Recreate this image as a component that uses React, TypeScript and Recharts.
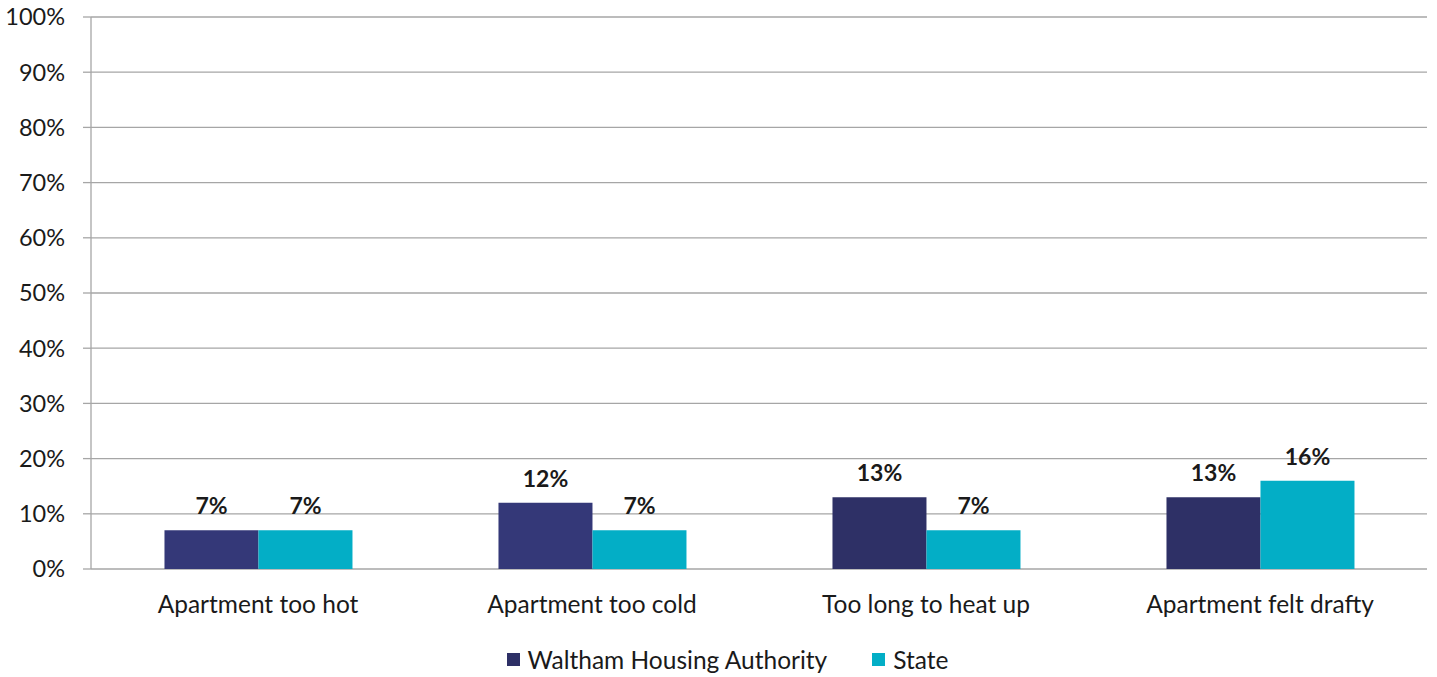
import React from "react";
import {
  BarChart,
  Bar,
  XAxis,
  YAxis,
  CartesianGrid,
  Legend,
  LabelList,
  Cell,
} from "recharts";

const categories = [
  "Apartment too hot",
  "Apartment too cold",
  "Too long to heat up",
  "Apartment felt drafty",
];
const walthamValues = [7, 12, 13, 13];
const stateValues = [7, 7, 7, 16];
const yTicks = [0, 10, 20, 30, 40, 50, 60, 70, 80, 90, 100];
const boundaryTicks = [0, 1, 2, 3, 4];

const walthamColors = ["#343878", "#343878", "#2E3066", "#2E3066"];
const stateColor = "#03AEC6";
const gridColor = "#A6A6A6";
const textColor = "#1a1a1a";
const fontFamily = "Lato, 'Open Sans', sans-serif";

const data = categories.map((name, i) => ({
  name,
  waltham: walthamValues[i],
  state: stateValues[i],
}));

function ChartLegend() {
  const items = [
    { label: "Waltham Housing Authority", color: walthamColors[2] },
    { label: "State", color: stateColor },
  ];
  return (
    <div
      style={{
        display: "flex",
        justifyContent: "center",
        alignItems: "center",
        gap: 45,
        paddingTop: 8,
        paddingLeft: 28,
        fontFamily,
        fontSize: 24.5,
        color: textColor,
      }}
    >
      {items.map((it) => (
        <div key={it.label} style={{ display: "flex", alignItems: "center" }}>
          <span
            style={{
              display: "inline-block",
              width: 13,
              height: 13,
              background: it.color,
              marginRight: 8,
            }}
          />
          <span>{it.label}</span>
        </div>
      ))}
    </div>
  );
}

export default function App() {
  const labelStyle = {
    fill: textColor,
    fontSize: 23,
    fontWeight: 700,
    fontFamily,
  };
  return (
    <div style={{ position: "absolute", left: 0, top: 0, background: "#fff" }}>
      <BarChart
        width={1437}
        height={677}
        data={data}
        margin={{ top: 17, right: 10, bottom: 0, left: 0 }}
        barCategoryGap="22%"
        barGap={0}
      >
        <CartesianGrid vertical={false} stroke={gridColor} strokeWidth={1.3} />
        <XAxis
          xAxisId="cat"
          dataKey="name"
          height={68}
          tickLine={false}
          axisLine={false}
          tickSize={0}
          tickMargin={27}
          tick={{ fill: textColor, fontSize: 24.5, fontFamily }}
          interval={0}
        />
        <XAxis
          xAxisId="num"
          type="number"
          domain={[0, 4]}
          ticks={boundaryTicks}
          allowDataOverflow
          height={0}
          tick={false}
          tickSize={8}
          stroke={gridColor}
          strokeWidth={1.3}
        />
        <YAxis
          width={91}
          domain={[0, 100]}
          ticks={yTicks}
          tickFormatter={(v) => `${v}%`}
          tickSize={8}
          tickMargin={18}
          stroke={gridColor}
          strokeWidth={1.3}
          tick={{ fill: textColor, fontSize: 23.5, fontFamily }}
        />
        <Legend verticalAlign="bottom" height={40} content={() => <ChartLegend />} />
        <Bar xAxisId="cat" dataKey="waltham" isAnimationActive={false}>
          {data.map((d, i) => (
            <Cell key={d.name} fill={walthamColors[i]} />
          ))}
          <LabelList
            dataKey="waltham"
            position="top"
            offset={16}
            formatter={(v: number) => `${v}%`}
            style={labelStyle}
          />
        </Bar>
        <Bar xAxisId="cat" dataKey="state" fill={stateColor} isAnimationActive={false}>
          <LabelList
            dataKey="state"
            position="top"
            offset={16}
            formatter={(v: number) => `${v}%`}
            style={labelStyle}
          />
        </Bar>
      </BarChart>
    </div>
  );
}
